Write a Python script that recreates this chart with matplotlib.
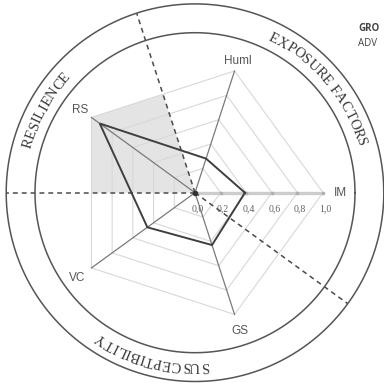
import numpy as np
import matplotlib
matplotlib.use("Agg")
import matplotlib.pyplot as plt
from matplotlib.font_manager import FontProperties, findfont
from matplotlib.ft2font import FT2Font, LOAD_NO_HINTING

# ---- data -------------------------------------------------------------
categories = ["IM", "Huml", "RS", "VC", "GS"]
values = [0.39, 0.28, 0.92, 0.46, 0.43]
tick_values = [0.0, 0.2, 0.4, 0.6, 0.8, 1.0]
tick_labels = ["0,0", "0,2", "0,4", "0,6", "0,8", "1,0"]
ring_levels = [0.2, 0.4, 0.6, 0.8, 1.0]
group_names = ["EXPOSURE FACTORS", "RESILIENCE", "SUSCEPTIBILITY"]
group_centres_deg = [40, 151, 255]
group_borders_deg = [108, 180, 324]
shaded_group = (108, 180)
header_lines = ["GRO", "ADV"]

# ---- geometry ---------------------------------------------------------
PX = 128.0                       # pixels per unit radius
n = len(categories)
angles = np.deg2rad(np.arange(n) * 360.0 / n)

fig = plt.figure(figsize=(3.84, 3.84), dpi=100)
ax = fig.add_axes([0, 0, 1, 1])
cx, cy = 195.0, 191.3            # centre in pixels from bottom-left
ax.set_xlim(-cx / PX, (384 - cx) / PX)
ax.set_ylim(-cy / PX, (384 - cy) / PX)
ax.set_aspect("equal")
ax.axis("off")


def pol(r, a):
    return r * np.cos(a), r * np.sin(a)


# shaded sector inside the outer ring
a0, a1 = np.deg2rad(shaded_group[0]), np.deg2rad(shaded_group[1])
apo = np.cos(np.pi / n)
sx, sy = [0], [0]
for r, a in [(apo, a0), (1.0, angles[2]), (apo, a1)]:
    x, y = pol(r, a)
    sx.append(x); sy.append(y)
ax.fill(sx, sy, color="#e4e4e4", zorder=1, lw=0)

# pentagonal grid rings
for lev in ring_levels:
    xs, ys = pol(lev, np.append(angles, angles[0]))
    ax.plot(xs, ys, color="#d8d8d8", lw=0.8, zorder=2)

# spokes
for i, a in enumerate(angles):
    x, y = pol(1.0, a)
    if i == 0:
        ax.plot([0, x], [0, y], color="#cdcdcd", lw=2.4, zorder=3,
                solid_capstyle="butt")
    else:
        ax.plot([0, x], [0, y], color="#7a7a7a", lw=0.9, zorder=3)

# scale on the IM axis
for v, lab in zip(tick_values, tick_labels):
    ax.plot([v], [0], marker="o", ms=1.6, color="#b0b0b0", zorder=4)
    ax.text(v + 0.02, -0.125, lab, ha="center", va="center",
            fontsize=7, family="Liberation Serif", color="#606060",
            zorder=6)

# group borders (dashed)
for d in group_borders_deg:
    x, y = pol(1.475, np.deg2rad(d))
    ax.plot([0, x], [0, y], color="#4a4a4a", lw=1.1,
            ls=(0, (3.2, 2.6)), zorder=5)

# data polygon
vals = np.array(values)
xs, ys = pol(np.append(vals, vals[0]), np.append(angles, angles[0]))
ax.plot(xs, ys, color="#3f3f3f", lw=1.4, zorder=6, solid_joinstyle="miter")
ax.plot([0], [0], marker="o", ms=3, color="#333333", zorder=7)

# axis labels
for lab, a in zip(categories, angles):
    r_lab = 1.14 - 0.06 * max(np.sin(a), 0.0)
    x, y = pol(r_lab, a)
    ax.text(x, y, lab, ha="center", va="center", fontsize=8.5,
            family="Liberation Sans", color="#555555", zorder=6)

# enclosing circles
t = np.linspace(0, 2 * np.pi, 400)
for r in (1.25, 1.475):
    ax.plot(r * np.cos(t), r * np.sin(t), color="#555555", lw=1.1, zorder=5)

# curved group titles, written clockwise with tops facing outward
fp = FontProperties(family="Liberation Serif", size=10.5)
ft = FT2Font(findfont(fp))
ft.set_size(fp.get_size_in_points(), 72)
pt_to_unit = (100.0 / 72.0) / PX
r_text = 1.325
for name, centre in zip(group_names, group_centres_deg):
    glyphs = [ft.load_char(ord(c), flags=LOAD_NO_HINTING) for c in name]
    adv = np.array([g.linearHoriAdvance / 65536.0 for g in glyphs])
    ink = np.array([(g.horiBearingX + g.width / 2.0) / 64.0 for g in glyphs])
    total = adv.sum()
    starts = np.concatenate([[0], np.cumsum(adv)[:-1]])
    mids = (starts + ink - total / 2) * pt_to_unit
    for ch, m in zip(name, mids):
        if ch == " ":
            continue
        th = np.deg2rad(centre) - m / r_text
        x, y = pol(r_text, th)
        ax.text(x, y, ch, fontproperties=fp, color="#3a3a3a",
                rotation=np.rad2deg(th) - 90, rotation_mode="anchor",
                ha="center", va="baseline", zorder=6)

# header text at the top right
ax.text(1.273, 1.285, header_lines[0], ha="left", va="center", fontsize=7,
        family="Open Sans", weight="bold", color="#444444")
ax.text(1.273, 1.165, header_lines[1], ha="left", va="center", fontsize=7,
        family="Open Sans", color="#444444")

fig.savefig("out.png", dpi=100, facecolor="white")
